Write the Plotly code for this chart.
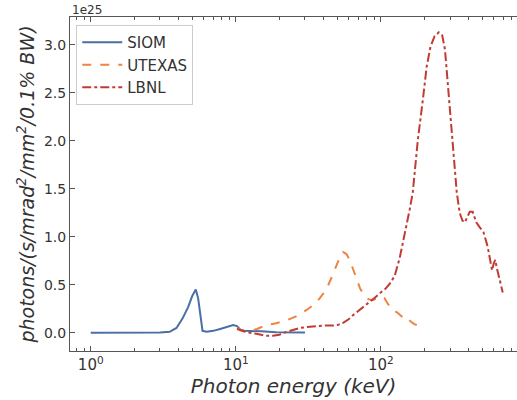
import plotly.graph_objects as go

# ---- data (photon energy in keV, brightness in units of 1e25) ----
siom_x = [1, 2, 3, 3.5, 3.9, 4.3, 4.7, 5.0, 5.3, 5.5, 5.7, 5.9, 6.3, 7, 7.8, 8.7, 9.6,
          10.2, 10.8, 11.5, 13, 15, 19, 24, 30]
siom_y = [0, 0, 0.003, 0.01, 0.05, 0.15, 0.27, 0.38, 0.45, 0.36, 0.18, 0.02, 0.01, 0.02,
          0.04, 0.065, 0.08, 0.07, 0.03, 0.02, 0.02, 0.015, 0.005, 0.003, 0.003]

utexas_x = [10.2, 11, 12, 14, 16.3, 19, 22.4, 26, 31, 35, 38, 42, 45, 49, 52, 55, 58, 61,
            65, 68, 72, 76, 82, 88, 94, 100, 106, 112, 120, 130, 142, 150, 160, 170, 186, 200]
utexas_y = [0.05, 0.02, 0.01, 0.04, 0.08, 0.10, 0.13, 0.17, 0.24, 0.30, 0.36, 0.45, 0.55,
            0.68, 0.78, 0.84, 0.82, 0.76, 0.64, 0.55, 0.46, 0.40, 0.35, 0.34, 0.36, 0.38,
            0.36, 0.30, 0.24, 0.21, 0.16, 0.17, 0.12, 0.09, 0.07, 0.07]

lbnl_x = [10.2, 11, 12, 13.9, 16, 18, 20, 22.4, 25, 27.6, 31, 36, 41, 46.8, 50, 54.6, 60,
          64, 72, 80, 90, 98, 108, 118, 125, 135, 142, 150, 158, 166, 180, 195, 207, 220,
          235, 251, 265, 277, 290, 309, 334, 350, 365, 380, 395, 410, 430, 455, 480, 510,
          545, 570, 585, 600, 615, 630, 660, 693]
lbnl_y = [0.04, 0.02, 0.005, -0.01, -0.03, -0.03, -0.02, 0.01, 0.03, 0.05, 0.06, 0.07,
          0.075, 0.075, 0.08, 0.10, 0.14, 0.18, 0.24, 0.30, 0.36, 0.41, 0.46, 0.53, 0.60,
          0.78, 0.94, 1.10, 1.28, 1.46, 2.01, 2.43, 2.77, 2.98, 3.09, 3.13, 3.10, 2.95,
          2.60, 2.08, 1.46, 1.25, 1.17, 1.15, 1.20, 1.26, 1.26, 1.15, 1.10, 1.05, 0.90,
          0.72, 0.65, 0.72, 0.76, 0.68, 0.55, 0.42]

x_tick_vals = [1, 10, 100]
x_tick_text = ["10<sup>0</sup>", "10<sup>1</sup>", "10<sup>2</sup>"]
x_minor_vals = [m * d for d in (0.1, 1, 10, 100) for m in range(2, 10)]
y_tick_vals = [0.0, 0.5, 1.0, 1.5, 2.0, 2.5, 3.0]
y_tick_text = ["0.0", "0.5", "1.0", "1.5", "2.0", "2.5", "3.0"]

FONT = "DejaVu Sans"
TXT = "#333333"
AX = "#555555"

fig = go.Figure()
fig.add_trace(go.Scatter(x=siom_x, y=siom_y, mode="lines", name="SIOM",
                         line=dict(color="#4a6fa5", width=2)))
fig.add_trace(go.Scatter(x=utexas_x, y=utexas_y, mode="lines", name="UTEXAS",
                         line=dict(color="#ee8440", width=2, dash="dash")))
fig.add_trace(go.Scatter(x=lbnl_x, y=lbnl_y, mode="lines", name="LBNL",
                         line=dict(color="#c23b32", width=2, dash="dashdot")))

fig.update_layout(
    width=517, height=400,
    margin=dict(l=70, r=0, t=17, b=49),
    plot_bgcolor="white", paper_bgcolor="white",
    font=dict(family=FONT, color=TXT, size=14),
    showlegend=True,
    legend=dict(x=0.014, y=0.976, xanchor="left", yanchor="top",
                bgcolor="rgba(255,255,255,0.8)", bordercolor="#cccccc", borderwidth=1,
                font=dict(size=15, color=TXT), tracegroupgap=0, itemwidth=40),
    xaxis=dict(type="log", range=[-0.143, 2.939], automargin=False,
               tickvals=x_tick_vals, ticktext=x_tick_text,
               ticks="inside", ticklen=5, tickwidth=1, tickcolor=AX,
               minor=dict(tickvals=x_minor_vals, ticks="inside", ticklen=3,
                          tickwidth=0.8, tickcolor=AX),
               showline=True, linecolor=AX, linewidth=1, mirror="ticks",
               showgrid=False, zeroline=False,
               tickfont=dict(size=15, color=TXT),
               title=dict(text="<i>Photon energy (keV)</i>",
                          font=dict(size=20, color=TXT), standoff=4)),
    yaxis=dict(range=[-0.19, 3.29], automargin=False,
               tickvals=y_tick_vals, ticktext=y_tick_text,
               ticks="inside", ticklen=5, tickwidth=1, tickcolor=AX,
               showline=True, linecolor=AX, linewidth=1, mirror=False,
               showgrid=False, zeroline=False,
               tickfont=dict(size=14, color=TXT),
               title=dict(text="<i>photons/(s/mrad<sup>2</sup>/mm<sup>2</sup>/0.1% BW)</i>",
                          font=dict(size=19, color=TXT), standoff=4)),
    annotations=[dict(text="1e25", xref="paper", yref="paper", x=0.0, y=1.0,
                      xanchor="left", yanchor="bottom", showarrow=False,
                      font=dict(size=12, color=TXT), yshift=-2)],
)

fig.write_html("out.html", config={"displayModeBar": False},
               post_script="document.body.style.margin='0';document.body.style.overflow='hidden';")
